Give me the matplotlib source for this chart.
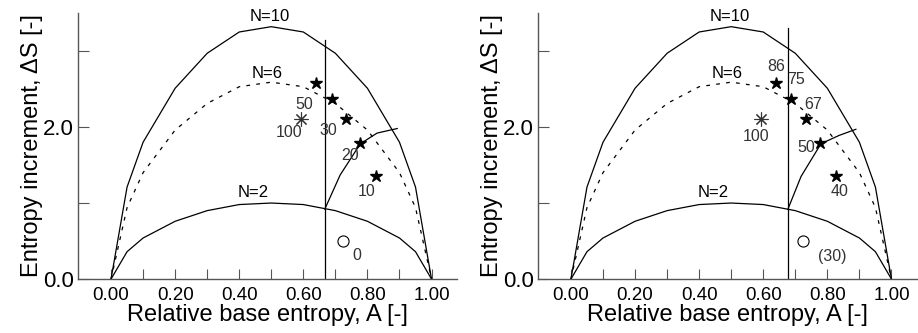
import matplotlib.pyplot as plt

plt.rcParams['font.family'] = ['Liberation Sans', 'DejaVu Sans']

# relative base entropy grid and entropy curves
a_grid = [0.0, 0.05, 0.10, 0.20, 0.30, 0.40, 0.50, 0.60, 0.70, 0.80, 0.90, 0.95, 1.0]
ds_n10 = [0.0, 1.21, 1.80, 2.51, 2.97, 3.25, 3.32, 3.25, 2.97, 2.51, 1.80, 1.21, 0.0]
ds_n6 = [0.0, 0.94, 1.40, 1.96, 2.31, 2.53, 2.59, 2.53, 2.31, 1.96, 1.40, 0.94, 0.0]
ds_n2 = [0.0, 0.36, 0.54, 0.76, 0.90, 0.98, 1.00, 0.98, 0.90, 0.76, 0.54, 0.36, 0.0]

# boundary curve starting on N=2
bound_a_left = [0.667, 0.715, 0.778, 0.830, 0.882, 0.893]
bound_ds_left = [0.92, 1.37, 1.78, 1.92, 1.97, 1.98]
bound_a_right = [0.677, 0.718, 0.780, 0.837, 0.889]
bound_ds_right = [0.92, 1.35, 1.78, 1.89, 1.97]

vline_left = (0.667, 3.14)
vline_right = (0.677, 3.30)

# measured points
star_a = [0.641, 0.688, 0.734, 0.778, 0.827]
star_ds = [2.575, 2.37, 2.11, 1.785, 1.36]
ast_a, ast_ds = 0.593, 2.105
circ_a, circ_ds = 0.723, 0.505

# point labels (text, A, dS)
labels_left = [("50", 0.602, 2.29), ("100", 0.557, 1.925), ("30", 0.679, 1.96),
               ("20", 0.747, 1.63), ("10", 0.799, 1.15), ("0", 0.766, 0.316)]
labels_right = [("86", 0.640, 2.79), ("75", 0.702, 2.62), ("67", 0.756, 2.29),
                ("50", 0.733, 1.73), ("40", 0.837, 1.15), ("100", 0.578, 1.88),
                ("(30)", 0.814, 0.30)]
curve_labels = [("N=10", 0.495, 3.45), ("N=6", 0.487, 2.71), ("N=2", 0.445, 1.135)]

fig = plt.figure(figsize=(9.18, 3.33), dpi=100)
ax1 = fig.add_axes([0.085, 0.162, 0.413, 0.799])
ax2 = fig.add_axes([0.586, 0.162, 0.413, 0.799])


def draw_panel(ax, bound_a, bound_ds, vline, labels):
    ax.plot(a_grid, ds_n10, color='black', lw=0.9)
    ax.plot(a_grid, ds_n6, color='black', lw=0.9, dashes=(3, 5))
    ax.plot(a_grid, ds_n2, color='black', lw=0.9)
    ax.plot(bound_a, bound_ds, color='black', lw=0.9)
    ax.plot([vline[0], vline[0]], [0, vline[1]], color='black', lw=0.9)

    ax.plot(star_a, star_ds, linestyle='none', marker='*', ms=9,
            color='black')
    ax.plot([ast_a], [ast_ds], linestyle='none', marker=(8, 2, 0), ms=10,
            mew=0.8, color='#333333')
    ax.plot([circ_a], [circ_ds], linestyle='none', marker='o', ms=8,
            mfc='white', mec='black', mew=0.8)

    for txt, x, y in curve_labels:
        ax.text(x, y, txt, ha='center', va='center', fontsize=12)
    for txt, x, y in labels:
        ax.text(x, y, txt, ha='center', va='center', fontsize=11.5,
                color='#333333')

    ax.set_xlim(-0.103, 1.08)
    ax.set_ylim(0, 3.5)
    ax.set_xticks([0, 0.2, 0.4, 0.6, 0.8, 1.0])
    ax.set_xticklabels(['0.00', '0.20', '0.40', '0.60', '0.80', '1.00'])
    ax.set_xticks([0.1, 0.3, 0.5, 0.7, 0.9], minor=True)
    ax.set_yticks([0, 1, 2, 3])
    ax.set_yticklabels(['0.0', '', '2.0', ''])
    ax.tick_params(axis='x', which='both', direction='in', length=7,
                   width=0.8, color='#555555', labelsize=13.5, pad=6)
    ax.tick_params(axis='y', which='both', direction='in', length=8,
                   width=0.8, color='#555555', labelsize=16, pad=3)
    for side in ['top', 'right']:
        ax.spines[side].set_visible(False)
    for side in ['left', 'bottom']:
        ax.spines[side].set_color('#555555')
        ax.spines[side].set_linewidth(1.0)

    ax.set_xlabel('Relative base entropy, A [-]', fontsize=17, labelpad=0)
    ax.set_ylabel('Entropy increment, ΔS [-]', fontsize=17, labelpad=0)


draw_panel(ax1, bound_a_left, bound_ds_left, vline_left, labels_left)
draw_panel(ax2, bound_a_right, bound_ds_right, vline_right, labels_right)

plt.savefig('out.png', dpi=100)
